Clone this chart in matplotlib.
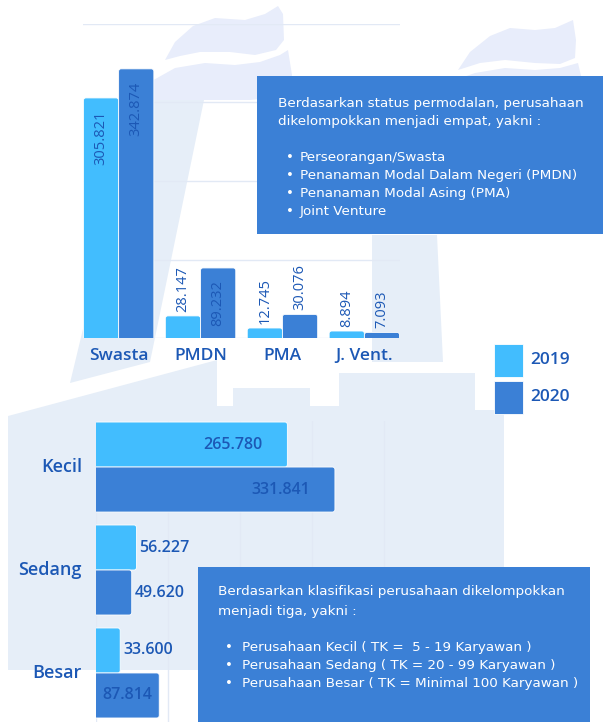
import matplotlib.pyplot as plt
from matplotlib.patches import Rectangle, Polygon, FancyBboxPatch

W, H = 604, 722

# jumlah perusahaan menurut status permodalan
status = ['Swasta', 'PMDN', 'PMA', 'J. Vent.']
status_2019 = [305.821, 28.147, 12.745, 8.894]
status_2020 = [342.874, 89.232, 30.076, 7.093]

# jumlah perusahaan menurut klasifikasi
kelas = ['Kecil', 'Sedang', 'Besar']
kelas_2019 = [265.780, 56.227, 33.600]
kelas_2020 = [331.841, 49.620, 87.814]

years = ['2019', '2020']

C19 = '#42bdfe'
C20 = '#3b80d6'
TXT = '#1c58b5'
BOX = '#3b80d6'
WM = '#e6eef8'
SMOKE = '#e8edfb'
GRID = '#e2e9f5'
LABEL_FONT = ['Open Sans', 'DejaVu Sans']


def fmt(v):
    return f'{v:.3f}'


def fp(x, y):
    # pixel position (origin top-left) -> figure fraction
    return (x / W, 1 - y / H)


def round_bars(ax, bars, radius=2.5, horizontal=False):
    # swap plain rectangles for rounded ones; the base side is pushed past
    # the axis edge so only the free end shows rounded corners
    pos = ax.get_position()
    x0, x1 = ax.get_xlim()
    y0, y1 = ax.get_ylim()
    ux = abs(x1 - x0) / (pos.width * W)
    uy = abs(y1 - y0) / (pos.height * H)
    for r in bars:
        bx, by, bw_, bh_ = r.get_x(), r.get_y(), r.get_width(), r.get_height()
        if horizontal:
            bx -= radius * ux
            bw_ += radius * ux
        else:
            by -= radius * uy
            bh_ += radius * uy
        p = FancyBboxPatch((bx, by), bw_, bh_,
                           boxstyle=f'round,pad=0,rounding_size={radius * ux}',
                           mutation_aspect=uy / ux, facecolor=r.get_facecolor(),
                           edgecolor='white', linewidth=0.6, zorder=3)
        ax.add_patch(p)
        r.set_visible(False)


fig = plt.figure(figsize=(W / 100, H / 100), dpi=100)
fig.patch.set_facecolor('white')

# faint factory watermark in the background
smoke = [
    [(165, 60), (175, 42), (193, 26), (215, 18), (245, 20), (265, 14), (278, 6), (283, 14),
     (284, 40), (276, 50), (255, 55), (230, 52), (200, 52), (180, 56)],
    [(138, 100), (150, 82), (175, 68), (205, 63), (235, 65), (260, 62), (280, 55), (288, 50),
     (292, 75), (288, 96), (250, 100), (204, 100)],
    [(458, 70), (470, 52), (490, 36), (510, 28), (535, 30), (555, 28), (573, 20), (576, 40),
     (575, 58), (560, 64), (535, 63), (505, 60), (480, 63)],
    [(455, 80), (475, 73), (505, 68), (535, 70), (560, 68), (578, 63), (582, 80)],
]
building = [
    [(70, 383), (150, 362), (204, 100), (138, 100)],
    [(372, 235), (437, 235), (443, 362), (372, 362)],
    [(8, 416), (217, 360), (217, 406), (233, 406), (233, 388), (310, 388), (310, 406),
     (339, 406), (339, 373), (475, 373), (475, 410), (504, 410), (504, 670), (8, 670)],
]
for pts_list, col in [(smoke, SMOKE), (building, WM)]:
    for pts in pts_list:
        fig.patches.append(Polygon([fp(x, y) for x, y in pts], closed=True, facecolor=col,
                                   edgecolor='none', transform=fig.transFigure, zorder=-5))

# --- vertical bars: status permodalan ---
ax1 = fig.add_axes([83 / W, 1 - 338 / H, (400 - 83) / W, (338 - 24) / H])
ax1.set_facecolor('none')
x = list(range(len(status)))
bw = 0.43
b19 = ax1.bar([i - bw / 2 for i in x], status_2019, bw, color=C19, zorder=3)
b20 = ax1.bar([i + bw / 2 for i in x], status_2020, bw, color=C20, zorder=3)
ax1.set_xlim(-0.435, 3.435)
ax1.set_ylim(0, 400)
ax1.set_yticks([0, 100, 200, 300, 400])
ax1.grid(axis='y', color=GRID, linewidth=1, zorder=0)
ax1.tick_params(left=False, bottom=False, labelleft=False, labelbottom=False)
for s in ax1.spines.values():
    s.set_visible(False)
round_bars(ax1, list(b19) + list(b20))

for bars, vals in [(b19, status_2019), (b20, status_2020)]:
    for r, v in zip(bars, vals):
        cx = r.get_x() + r.get_width() / 2
        if v >= 80:
            ax1.annotate(fmt(v), (cx, v), xytext=(0, -9), textcoords='offset points',
                         rotation=90, ha='center', va='top', fontsize=10.5,
                         color=TXT, family=LABEL_FONT, zorder=5)
        else:
            ax1.annotate(fmt(v), (cx, v), xytext=(0, 3), textcoords='offset points',
                         rotation=90, ha='center', va='bottom', fontsize=10.5,
                         color=TXT, family=LABEL_FONT, zorder=5)

for i, name in enumerate(status):
    ax1.annotate(name, (i, 0), xytext=(0, -13), textcoords='offset points',
                 ha='center', va='center', fontsize=12.5, fontweight='semibold',
                 color=TXT, family=LABEL_FONT, annotation_clip=False)

# legend
for (yy, col, lab) in [(344, C19, years[0]), (381, C20, years[1])]:
    fig.patches.append(Rectangle(fp(494, yy + 33), 29 / W, 33 / H, facecolor=col,
                                 edgecolor='white', linewidth=0.6,
                                 transform=fig.transFigure, zorder=4))
    fig.text(*fp(530, yy + 16), lab, ha='left', va='center', fontsize=12.5,
             fontweight='semibold', color=TXT, family=LABEL_FONT)

# --- horizontal bars: klasifikasi ---
ax2 = fig.add_axes([96 / W, 0, 360 / W, (722 - 421) / H])
ax2.set_facecolor('none')
y = list(range(len(kelas)))
bh = 0.437
h19 = ax2.barh([i - bh / 2 for i in y], kelas_2019, bh, color=C19, zorder=3)
h20 = ax2.barh([i + bh / 2 for i in y], kelas_2020, bh, color=C20, zorder=3)
ax2.set_xlim(0, 500)
ax2.set_ylim(2.476, -0.447)
ax2.set_xticks([0, 100, 200, 300, 400])
ax2.grid(axis='x', color=GRID, linewidth=1, zorder=0)
ax2.tick_params(left=False, bottom=False, labelleft=False, labelbottom=False)
for s in ax2.spines.values():
    s.set_visible(False)
round_bars(ax2, list(h19) + list(h20), horizontal=True)

for bars, vals in [(h19, kelas_2019), (h20, kelas_2020)]:
    for r, v in zip(bars, vals):
        cy = r.get_y() + r.get_height() / 2
        if v >= 150:
            ax2.annotate(fmt(v), (v, cy), xytext=(-18, 0), textcoords='offset points',
                         ha='right', va='center', fontsize=11.5, fontweight='semibold',
                         color=TXT, family=LABEL_FONT, zorder=5)
        elif v >= 80:
            ax2.annotate(fmt(v), (v / 2, cy), ha='center', va='center', fontsize=11.5,
                         fontweight='semibold', color=TXT, family=LABEL_FONT, zorder=5)
        else:
            ax2.annotate(fmt(v), (v, cy), xytext=(2, 0), textcoords='offset points',
                         ha='left', va='center', fontsize=11.5, fontweight='semibold',
                         color=TXT, family=LABEL_FONT, zorder=5)

for i, name in enumerate(kelas):
    ax2.annotate(name, (0, i), xytext=(-10, 0), textcoords='offset points',
                 ha='right', va='center', fontsize=13, fontweight='semibold',
                 color=TXT, family=LABEL_FONT, annotation_clip=False)

# --- keterangan ---
fig.patches.append(Rectangle(fp(257, 234), (603 - 257) / W, (234 - 76) / H, facecolor=BOX,
                             edgecolor='none', transform=fig.transFigure, zorder=6))
fig.patches.append(Rectangle(fp(198, 722), (590 - 198) / W, (722 - 567) / H, facecolor=BOX,
                             edgecolor='none', transform=fig.transFigure, zorder=6))

note1 = ['Berdasarkan status permodalan, perusahaan',
         'dikelompokkan menjadi empat, yakni :']
items1 = ['Perseorangan/Swasta', 'Penanaman Modal Dalam Negeri (PMDN)',
          'Penanaman Modal Asing (PMA)', 'Joint Venture']
note2 = ['Berdasarkan klasifikasi perusahaan dikelompokkan', 'menjadi tiga, yakni :']
items2 = ['Perusahaan Kecil ( TK =  5 - 19 Karyawan )',
          'Perusahaan Sedang ( TK = 20 - 99 Karyawan )',
          'Perusahaan Besar ( TK = Minimal 100 Karyawan )']

tkw = dict(color='white', fontsize=9.7, va='center', zorder=7)
for k, line in enumerate(note1):
    fig.text(*fp(278, 103 + 18 * k), line, **tkw)
for k, line in enumerate(items1):
    fig.text(*fp(290, 158 + 17.7 * k), '•', ha='center', **tkw)
    fig.text(*fp(300, 158 + 17.7 * k), line, **tkw)
for k, line in enumerate(note2):
    fig.text(*fp(218, 592 + 20 * k), line, **tkw)
for k, line in enumerate(items2):
    fig.text(*fp(229, 647 + 18 * k), '•', ha='center', **tkw)
    fig.text(*fp(242, 647 + 18 * k), line, **tkw)

fig.savefig('out.png', dpi=100, facecolor='white')
